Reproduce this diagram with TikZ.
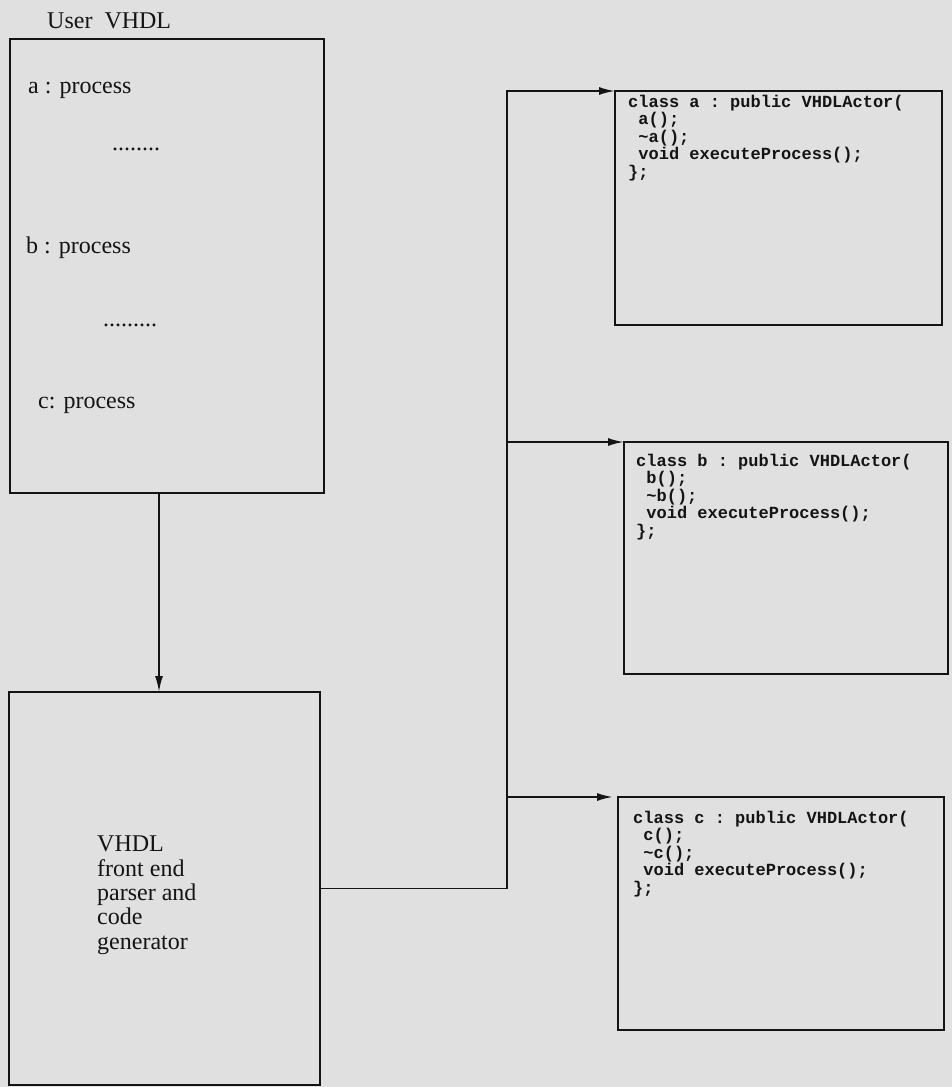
\documentclass[tikz,border=0pt]{standalone}
\usepackage{fontspec}
\setmainfont{Liberation Serif}
\setmonofont{Liberation Mono}
\usetikzlibrary{
  arrows.meta,
  positioning
}
\definecolor{paper}{gray}{0.88}
\definecolor{ink}{gray}{0.08}
\newcommand{\procfont}{\fontsize{24}{24.3}\selectfont}
\newcommand{\codefont}{\fontsize{17}{17.4}\selectfont\ttfamily\bfseries}
\tikzset{
  frame box/.style={
    draw=ink, rectangle, line width=2.1pt,
    inner sep=0pt, outer sep=0pt
  },
  flow arrow/.style={
    -{Latex[length=16pt,width=8pt]}, line width=1.9pt, draw=ink
  },
  serif text/.style={
    inner sep=0pt, text=ink, font=\procfont
  },
  code text/.style={
    inner sep=0pt, text=ink, align=left,
    font=\codefont, anchor=north west
  },
}

\begin{document}
\begin{tikzpicture}[x=1pt, y=1pt]

  \fill[paper] (0,0) rectangle (952,-1087);
  \useasboundingbox (0,0) rectangle (952,-1087);

  % user source
  \node[frame box, minimum width=314pt, minimum height=454pt]
    (user) at (167,-266) {};
  \node[serif text, anchor=base west] (userlbl) at (47,-28) {User~~VHDL};
  \node[serif text, anchor=base west] (procA) at (28,-93)  {a : process};
  \node[serif text, anchor=base west] (dotsA) at (112,-150) {........};
  \node[serif text, anchor=base west] (procB) at (26,-253) {b : process};
  \node[serif text, anchor=base west] (dotsB) at (103,-326) {.........};
  \node[serif text, anchor=base west] (procC) at (38,-408) {c: process};

  % front end
  \node[frame box, minimum width=311pt, minimum height=393pt,
        below=199pt of user, xshift=-2.5pt]
    (parser) {};
  \node[serif text, anchor=north west, align=left]
    (parsertxt) at (97,-836)
    {VHDL\\front end\\parser and\\code\\generator};

  % generated classes
  \node[frame box, minimum width=327pt, minimum height=234pt]
    (clsA) at (778.5,-208) {};
  \node[frame box, minimum width=324pt, minimum height=232pt,
        below=117pt of clsA, xshift=7.5pt]
    (clsB) {};
  \node[frame box, minimum width=326pt, minimum height=233pt,
        below=123pt of clsB, xshift=-5pt]
    (clsC) {};

  \node[code text] (codeA) at ([shift={(13pt,-4pt)}]clsA.north west)
    {class a : public VHDLActor(\\
     \ a();\\
     \ \textasciitilde a();\\
     \ void executeProcess();\\
     \};};
  \node[code text] (codeB) at ([shift={(12pt,-12pt)}]clsB.north west)
    {class b : public VHDLActor(\\
     \ b();\\
     \ \textasciitilde b();\\
     \ void executeProcess();\\
     \};};
  \node[code text] (codeC) at ([shift={(15pt,-14pt)}]clsC.north west)
    {class c : public VHDLActor(\\
     \ c();\\
     \ \textasciitilde c();\\
     \ void executeProcess();\\
     \};};

  \coordinate (trunk) at (507,0);

  \draw[flow arrow] ([xshift=-8pt]user.south)
    -- ([xshift=-8pt]user.south |- parser.north);
  \draw[flow arrow] (parser.east) -| (trunk |- clsA.north west)
    -- (clsA.north west);
  \draw[flow arrow] (trunk |- clsB.north west) -- (clsB.north west);
  \draw[flow arrow] (trunk |- clsC.north west) -- ([xshift=-5pt]clsC.north west);

\end{tikzpicture}
\end{document}
